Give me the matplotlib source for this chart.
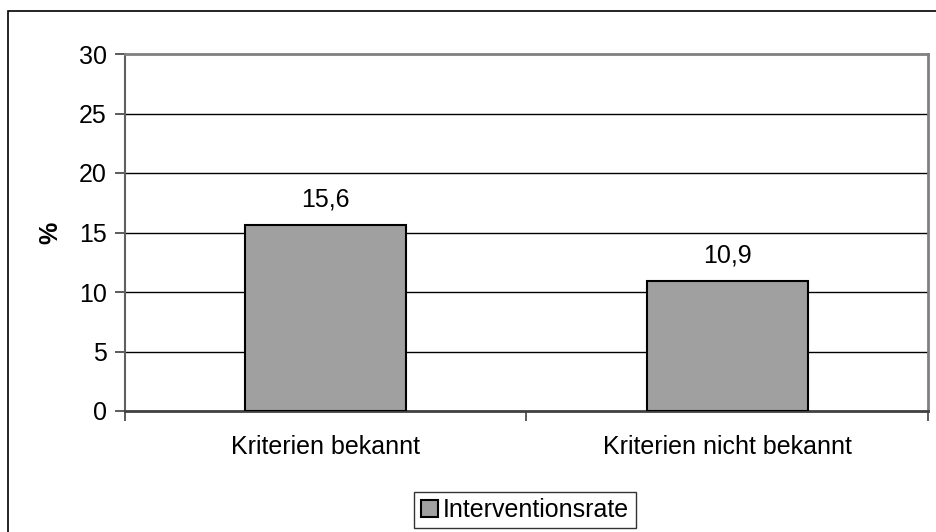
import matplotlib
matplotlib.use("Agg")
import matplotlib.pyplot as plt
from matplotlib.patches import Rectangle

plt.rcParams['font.family'] = ['Liberation Sans', 'DejaVu Sans']

categories = ["Kriterien bekannt", "Kriterien nicht bekannt"]
values = [15.6, 10.9]
series_name = "Interventionsrate"
yticks = [0, 5, 10, 15, 20, 25, 30]

FS = 18
W, H = 937, 532
fig = plt.figure(figsize=(W / 100, H / 100), dpi=100)

# outer chart border
fig.patches.append(Rectangle((8 / W, -0.05), 1.1, (H - 11) / H + 0.05,
                             transform=fig.transFigure, fill=False,
                             edgecolor='black', linewidth=1.2))

left, right, top, bottom = 125, 928, 54, 411
ax = fig.add_axes([left / W, 1 - bottom / H, (right - left) / W, (bottom - top) / H])

x = list(range(len(categories)))
ax.bar(x, values, width=0.4, color='#a0a0a0', edgecolor='black', linewidth=1.5,
       label=series_name, zorder=3)
for xi, v in zip(x, values):
    ax.text(xi, v + 1.2, f"{v:.1f}".replace('.', ','), ha='center', va='bottom',
            fontsize=FS)

ax.set_xlim(-0.5, len(categories) - 0.5)
ax.set_ylim(0, 30)
ax.set_yticks(yticks)
ax.set_yticklabels([str(t) for t in yticks], fontsize=FS)
for t in yticks[1:-1]:
    ax.axhline(t, color='black', linewidth=1.0, zorder=1)

ax.set_xticks(x)
ax.set_xticklabels(categories, fontsize=FS)
ax.tick_params(axis='x', length=0, pad=17)
ax.set_xticks([-0.5, 0.5, 1.5], minor=True)
ax.tick_params(axis='x', which='minor', length=7, direction='out', color='#404040', width=1.2)
ax.tick_params(axis='y', length=7, direction='out', color='#404040', width=1.2, pad=6)

for s in ['top', 'right']:
    ax.spines[s].set_color('#808080')
    ax.spines[s].set_linewidth(2)
ax.spines['left'].set_color('#606060')
ax.spines['left'].set_linewidth(1.5)
ax.spines['bottom'].set_color('#404040')
ax.spines['bottom'].set_linewidth(2)

ax.set_ylabel('%', fontsize=FS, fontweight='bold', labelpad=12)

leg = ax.legend(loc='center', bbox_to_anchor=(525 / W, 1 - 510 / H),
                bbox_transform=fig.transFigure, fontsize=FS, frameon=True,
                fancybox=False, edgecolor='black', handlelength=0.7, handleheight=0.7,
                handletextpad=0.2, borderpad=0.25, borderaxespad=0)
leg.get_frame().set_linewidth(1.0)

fig.savefig('out.png', dpi=100)
